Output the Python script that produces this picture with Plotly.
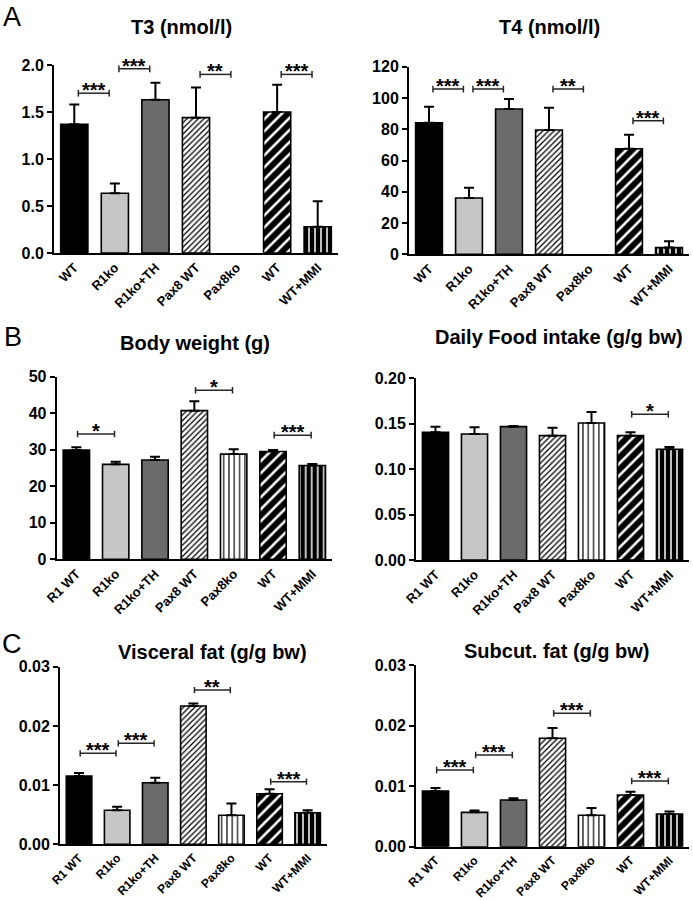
import plotly.graph_objects as go

# ---------------- data ----------------
labels_a = ["WT", "R1ko", "R1ko+TH", "Pax8 WT", "Pax8ko", "WT", "WT+MMI"]
labels_bc = ["R1 WT", "R1ko", "R1ko+TH", "Pax8 WT", "Pax8ko", "WT", "WT+MMI"]

t3_mean = [1.37, 0.635, 1.63, 1.44, None, 1.50, 0.28]
t3_sem = [0.21, 0.105, 0.18, 0.32, 0, 0.29, 0.27]
t3_sig = [(0, 1, 1.70, "***"), (1, 2, 1.96, "***"), (3, 4, 1.90, "**"), (5, 6, 1.90, "***")]

t4_mean = [84.1, 36.0, 92.9, 79.5, None, 67.5, 4.3]
t4_sem = [10.3, 6.6, 6.4, 14.2, 0, 9.0, 4.0]
t4_sig = [(0, 1, 105.7, "***"), (1, 2, 105.7, "***"), (3, 4, 105.7, "**"), (5, 6, 85.4, "***")]

bw_mean = [29.9, 26.0, 27.2, 40.7, 28.8, 29.5, 25.7]
bw_sem = [0.8, 0.7, 0.9, 2.6, 1.3, 0.4, 0.4]
bw_sig = [(0, 1, 34.3, "*"), (3, 4, 46.3, "*"), (5, 6, 34.0, "***")]

food_mean = [0.1406, 0.1387, 0.1468, 0.1369, 0.1508, 0.1369, 0.1219]
food_sem = [0.0062, 0.0073, 0.0007, 0.0088, 0.0122, 0.0037, 0.0025]
food_sig = [(5, 6, 0.1604, "*")]

visc_mean = [0.01153, 0.00574, 0.0104, 0.02335, 0.0049, 0.00855, 0.00534]
visc_sem = [0.0005, 0.0006, 0.00085, 0.00045, 0.002, 0.00074, 0.0004]
visc_sig = [(0, 1, 0.01536, "***"), (1, 2, 0.01705, "***"), (3, 4, 0.02605, "**"), (5, 6, 0.01058, "***")]

subc_mean = [0.0092, 0.00567, 0.0077, 0.0179, 0.0052, 0.00854, 0.0054]
subc_sem = [0.0005, 0.0003, 0.0003, 0.0017, 0.0012, 0.00054, 0.0004]
subc_sig = [(0, 1, 0.01266, "***"), (1, 2, 0.01514, "***"), (3, 4, 0.02202, "***"), (5, 6, 0.01085, "***")]

# ---------------- styles ----------------
W, H = 693, 900
FONT = "Liberation Sans, Arial, Helvetica, sans-serif"

# one style per group: (base colour, pattern shape, pattern fg, pattern size, solidity)
group_styles = [
    ("black", "", "black", 6, 0.3),
    ("#c6c6c6", "", "black", 6, 0.3),
    ("#6b6b6b", "", "black", 6, 0.3),
    ("white", "/", "black", 4, 0.32),
    ("white", "|", "black", 5.3, 0.22),
    ("black", "/", "white", 8.5, 0.3),
    ("black", "|", "white", 6, 0.25),
]


def px_x(p):
    return p / W


def px_y(p):
    return 1 - p / H


panels = [
    dict(title="T3 (nmol/l)", mean=t3_mean, sem=t3_sem, sig=t3_sig, labels=labels_a,
         ymax=2.0, dtick=0.5, fmt=".1f", xd=(54, 338), yd=(65, 253), tpos=(181, 27),
         off=(0.1, -0.14), xfs=13),
    dict(title="T4 (nmol/l)", mean=t4_mean, sem=t4_sem, sig=t4_sig, labels=labels_a,
         ymax=120, dtick=20, fmt="d", xd=(409, 689), yd=(66.7, 254.3), tpos=(549, 27),
         off=(0.1, -0.14), xfs=13),
    dict(title="Body weight (g)", mean=bw_mean, sem=bw_sem, sig=bw_sig, labels=labels_bc,
         ymax=50, dtick=10, fmt="d", xd=(56.7, 332), yd=(376.7, 559.3), tpos=(195, 343),
         off=(0.03, -0.03), xfs=13),
    dict(title="Daily Food intake (g/g bw)", mean=food_mean, sem=food_sem, sig=food_sig,
         labels=labels_bc, ymax=0.20, dtick=0.05, fmt=".2f", xd=(416, 689), yd=(378.3, 560),
         tpos=(559, 337), off=(0.03, -0.03), xfs=13),
    dict(title="Visceral fat (g/g bw)", mean=visc_mean, sem=visc_sem, sig=visc_sig,
         labels=labels_bc, ymax=0.03, dtick=0.01, fmt=".2f", xd=(60, 326.7), yd=(666.7, 844.3),
         tpos=(213, 652), off=(0.03, -0.03), xfs=12),
    dict(title="Subcut. fat (g/g bw)", mean=subc_mean, sem=subc_sem, sig=subc_sig,
         labels=labels_bc, ymax=0.03, dtick=0.01, fmt=".2f", xd=(416, 689), yd=(665, 846.7),
         tpos=(557, 651), off=(0.03, -0.03), xfs=12),
]

fig = go.Figure()
shapes = []
annotations = []
layout = {}

for k, p in enumerate(panels, start=1):
    xa = "x" if k == 1 else f"x{k}"
    ya = "y" if k == 1 else f"y{k}"
    cats = list(range(len(p["labels"])))
    for c in cats:
        if p["mean"][c] is None:
            continue
        base, shp, fg, sz, sol = group_styles[c]
        pattern = dict(shape=shp)
        if shp:
            pattern = dict(shape=shp, bgcolor=base, fgcolor=fg, size=sz,
                           solidity=sol, fillmode="replace", fgopacity=1)
        fig.add_trace(go.Bar(
            x=[c], y=[p["mean"][c]], xaxis=xa, yaxis=ya, width=0.67,
            marker=dict(color=base, line=dict(color="black", width=1.6), pattern=pattern),
            error_y=dict(type="data", symmetric=False, array=[p["sem"][c]],
                         arrayminus=[0], color="black", thickness=2, width=5),
            showlegend=False, hoverinfo="skip",
        ))
    xname = "xaxis" if k == 1 else f"xaxis{k}"
    yname = "yaxis" if k == 1 else f"yaxis{k}"
    layout[xname] = dict(
        domain=[px_x(p["xd"][0]), px_x(p["xd"][1])], anchor=ya, automargin=False,
        range=[-0.5, len(cats) - 0.5], tickmode="array", tickvals=cats,
        ticktext=p["labels"], tickangle=-45, ticks="", showline=True,
        linecolor="black", linewidth=2, showgrid=False, zeroline=False,
        tickfont=dict(family=FONT, size=p["xfs"], color="black", weight="bold"),
        fixedrange=True,
    )
    layout[yname] = dict(
        domain=[px_y(p["yd"][1]), px_y(p["yd"][0])], anchor=xa, automargin=False,
        range=[0, p["ymax"]], dtick=p["dtick"], tick0=0, tickformat=p["fmt"],
        ticks="outside", ticklen=5, tickwidth=2, tickcolor="black",
        showline=True, linecolor="black", linewidth=2, showgrid=False, zeroline=False,
        tickfont=dict(family=FONT, size=16, color="black", weight="bold"),
        fixedrange=True,
    )
    # title
    annotations.append(dict(
        text=p["title"], xref="paper", yref="paper",
        x=px_x(p["tpos"][0]), y=px_y(p["tpos"][1]), xanchor="center", yanchor="middle",
        showarrow=False, font=dict(family=FONT, size=20, color="black", weight="bold"),
    ))
    # significance brackets
    cap = p["ymax"] * 0.018
    for (i, j, yv, lab) in p["sig"]:
        x0 = i + p["off"][0]
        x1 = j + p["off"][1]
        ln = dict(color="#262626", width=1.5)
        shapes.append(dict(type="line", xref=xa, yref=ya, x0=x0, x1=x1, y0=yv, y1=yv, line=ln))
        shapes.append(dict(type="line", xref=xa, yref=ya, x0=x0, x1=x0, y0=yv - cap, y1=yv + cap, line=ln))
        shapes.append(dict(type="line", xref=xa, yref=ya, x0=x1, x1=x1, y0=yv - cap, y1=yv + cap, line=ln))
        annotations.append(dict(
            text=lab, xref=xa, yref=ya, x=(x0 + x1) / 2, y=yv,
            xanchor="center", yanchor="bottom", yshift=-10, showarrow=False,
            font=dict(family=FONT, size=20, color="black", weight="bold"),
        ))

# panel letters
for letter, (lx, ly) in zip(["A", "B", "C"], [(1, 17), (2, 337), (0, 644)]):
    annotations.append(dict(
        text=letter, xref="paper", yref="paper", x=px_x(lx), y=px_y(ly),
        xanchor="left", yanchor="middle", showarrow=False,
        font=dict(family=FONT, size=27, color="black"),
    ))

fig.update_layout(
    template="none",
    width=W, height=H, autosize=False,
    margin=dict(l=0, r=0, t=0, b=0, pad=0, autoexpand=False),
    paper_bgcolor="white", plot_bgcolor="white",
    shapes=shapes, annotations=annotations, barmode="overlay",
    **layout,
)

fig.write_html(
    "out.html",
    config={"displayModeBar": False},
    post_script="document.body.style.margin='0';document.body.style.padding='0';"
                "document.body.style.overflow='hidden';",
)
